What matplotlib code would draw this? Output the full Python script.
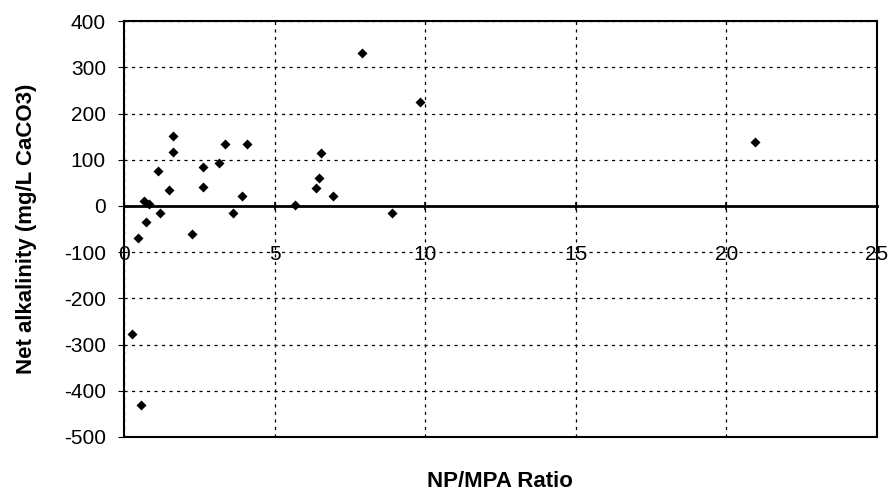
#Scatter of net alkalinity against NP/MPA ratio
import matplotlib
matplotlib.use("Agg")
import matplotlib.pyplot as plt

# data
npMpaRatio = [0.45, 0.65, 0.82, 0.73, 1.12, 1.20, 1.62, 1.64, 1.48, 2.25,
              2.61, 2.63, 3.17, 3.36, 3.62, 3.92, 4.09, 5.68, 6.38, 6.47,
              6.54, 6.95, 7.92, 9.84, 8.91, 20.94, 0.25, 0.56]
netAlkalinity = [-70, 11, 5, -35, 76, -15, 151, 117, 34, -60,
                 85, 42, 94, 135, -16, 22, 135, 3, 40, 60,
                 114, 22, 332, 226, -15, 139, -278, -431]

xTicks = [0, 5, 10, 15, 20, 25]
yTicks = [400, 300, 200, 100, 0, -100, -200, -300, -400, -500]

plt.rcParams['font.family'] = ['Liberation Sans', 'DejaVu Sans']
plt.rcParams['axes.unicode_minus'] = False

fig = plt.figure(figsize=(8.92, 4.93), dpi=100)
ax = fig.add_axes([0.139, 0.1136, 0.844, 0.8434])

ax.scatter(npMpaRatio, netAlkalinity, marker="D", s=26, color="black",
           linewidths=0, zorder=3, clip_on=False)

ax.set_xlim(0, 25)
ax.set_ylim(-500, 400)
ax.set_xticks(xTicks)
ax.set_yticks(yTicks)

# grid, black short dashes
ax.grid(True, color="black", linestyle=(0, (2.5, 3.5)), linewidth=0.9)
ax.set_axisbelow(True)

# x axis crosses at zero, box frame around plot area
ax.spines['bottom'].set_position(('data', 0))
ax.spines['bottom'].set_linewidth(2.0)
for side in ['left', 'top', 'right']:
    ax.spines[side].set_linewidth(1.5)
ax.plot([0, 1], [0, 0], transform=ax.transAxes, color="black",
        linewidth=1.5, clip_on=False, zorder=4)

ax.tick_params(axis='x', direction='inout', length=6, width=1.2, pad=25,
               labelsize=15)
ax.tick_params(axis='y', direction='out', length=4, width=0.8, pad=9,
               labelsize=15)

ax.set_xlabel("NP/MPA Ratio", fontsize=16, fontweight="bold")
ax.xaxis.set_label_coords(0.5, -0.082)
ax.set_ylabel("Net alkalinity (mg/L CaCO3)", fontsize=16, fontweight="bold")
ax.yaxis.set_label_coords(-0.1155, 0.5)

fig.savefig("out.png", dpi=100)
